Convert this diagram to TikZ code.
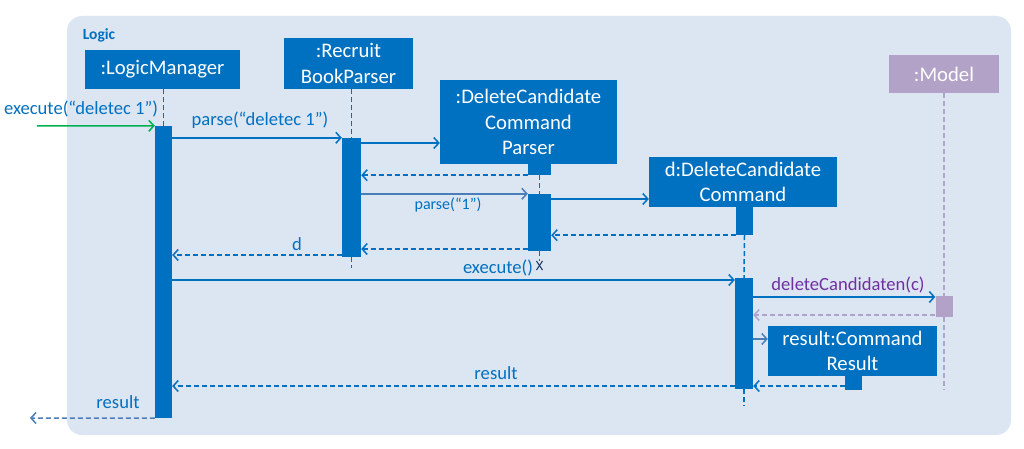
\documentclass[tikz,border=0pt]{standalone}
\usepackage{fontspec}
\setmainfont{Carlito}
\usetikzlibrary{arrows.meta,calc}
\definecolor{mblue}{HTML}{0070C0}
\definecolor{sblue}{HTML}{4A7EBB}
\definecolor{bgblue}{HTML}{DCE6F2}
\definecolor{mpurple}{HTML}{B3A2C7}
\definecolor{dpurple}{HTML}{7030A0}
\definecolor{mgreen}{HTML}{00B050}
\definecolor{navy}{HTML}{1F3864}
\begin{document}
\begin{tikzpicture}[x=1pt,y=-1pt,
  obj/.style={fill=mblue, text=white, draw=none, inner sep=0pt, align=center, font=\fontsize{20.7}{25.5}\selectfont},
  bar/.style={fill=mblue, draw=none, inner sep=0pt},
  life/.style={mblue, line width=1.5pt, dash pattern=on 5pt off 3pt},
  msg/.style={mblue, line width=1.5pt, -{Straight Barb[length=5pt,width=11pt,line width=1.5pt]}},
  ret/.style={msg, dash pattern=on 5pt off 3pt},
  lbl/.style={text=mblue, font=\fontsize{18.6}{20}\selectfont, inner sep=0pt},
]
\useasboundingbox (0,0) rectangle (1024,449);
\fill[white] (0,0) rectangle (1024,449);
\fill[bgblue, rounded corners=15pt] (67,16) rectangle (1011,435);
\node[text=mblue, font=\bfseries\fontsize{15.5}{17}\selectfont, inner sep=0pt] (logic) at (99,35) {Logic};

% objects
\node[obj, minimum width=155pt, minimum height=39pt] (lm) at (162.5,69.5) {:LogicManager};
\node[obj, minimum width=129pt, minimum height=51pt] (rbp) at (348.5,63.5) {:Recruit\\BookParser};
\node[obj, minimum width=177pt, minimum height=84pt] (dccp) at (528.5,122) {:DeleteCandidate\\Command\\Parser};
\node[obj, minimum width=188pt, minimum height=50pt] (dcc) at (743,182) {d:DeleteCandidate\\Command};
\node[obj, fill=mpurple, minimum width=110pt, minimum height=38pt] (mod) at (944,74) {:Model};
\node[obj, minimum width=169pt, minimum height=50pt] (res) at (852.5,351) {result:Command\\Result};

% small bars under boxes
\node[bar, minimum width=23pt, minimum height=11pt] (dccpS) at (539.5,169.5) {};
\node[bar, minimum width=17pt, minimum height=28pt] (dccS) at (744.5,221) {};
\node[bar, minimum width=17pt, minimum height=14pt] (resS) at (853.5,383) {};

% end coordinates
\coordinate (rbpEnd) at (351.5,268);
\coordinate (dccpEnd) at (539.5,261);
\coordinate (dccEnd) at (744,406);
\coordinate (modEnd) at (944,390);

% activation bars
\node[bar, minimum width=17pt, minimum height=292pt] (lmA) at (163.5,272) {};
\node[bar, minimum width=19pt, minimum height=119pt] (rbpA) at (351.5,197.5) {};
\node[bar, minimum width=23pt, minimum height=57pt] (dccpA) at (539.5,222.5) {};
\node[bar, minimum width=18pt, minimum height=111pt] (dccA) at (744,333.5) {};
\node[bar, fill=mpurple, minimum width=17pt, minimum height=21pt] (modA) at (944,306.5) {};

% lifelines
\draw[life] (lmA.north |- lm.south) -- (lmA.north);
\draw[life] (rbpA.north |- rbp.south) -- (rbpA.north);
\draw[life] (rbpA.south) -- (rbpEnd);
\draw[life] (dccpS.south) -- (dccpA.north);
\draw[life] (dccpA.south) -- (dccpEnd);
\draw[life] (dccS.south) -- (dccA.north);
\draw[life] (dccA.south) -- (dccEnd);
\draw[life, mpurple] (mod.south) -- (modA.north);
\draw[life, mpurple] (modA.south) -- (modEnd);

% destruction mark
\draw[navy, line width=1pt] ($(dccpEnd)+(-3,0)$) -- ($(dccpEnd)+(3,9)$);
\draw[navy, line width=1pt] ($(dccpEnd)+(3,0)$) -- ($(dccpEnd)+(-3,9)$);

% y levels
\coordinate (src) at (37,126);
\coordinate (out) at (30,418);
\coordinate (y3) at (0,143);
\coordinate (y6) at (0,199);
\coordinate (y8) at (0,249);
\coordinate (y9) at (0,255);
\coordinate (y10) at (0,280);
\coordinate (y11) at (0,297);
\coordinate (y12) at (0,315);
\coordinate (y13) at (0,339);
\coordinate (y14) at (0,386);

% messages
\draw[msg, mgreen] (src) -- (lmA.north west);
\draw[msg] (lmA.north east |- rbpA.north) -- (rbpA.north west);
\draw[msg] (rbpA.east |- y3) -- (dccp.west |- y3);
\draw[ret] (dccpS.south west) -- (rbpA.east |- dccpS.south);
\draw[msg, sblue] (rbpA.east |- dccpA.north) -- (dccpA.north west);
\draw[msg] (dccpA.east |- y6) -- (dcc.west |- y6);
\draw[ret] (dccS.south west) -- (dccpA.east |- dccS.south);
\draw[ret] (dccpA.west |- y8) -- (rbpA.east |- y8);
\draw[ret] (rbpA.west |- y9) -- (lmA.east |- y9);
\draw[msg] (lmA.east |- y10) -- (dccA.west |- y10);
\draw[msg] (dccA.east |- y11) -- (modA.west |- y11);
\draw[ret, mpurple] (modA.west |- y12) -- (dccA.east |- y12);
\draw[msg, sblue] (dccA.east |- y13) -- (res.west |- y13);
\draw[ret] (resS.west |- y14) -- (dccA.east |- y14);
\draw[ret] (dccA.west |- y14) -- (lmA.east |- y14);
\draw[ret, sblue] (lmA.south west) -- (out);

% labels
\node[lbl] (l1) at (81,109) {execute(“deletec 1”)};
\node[lbl] (l2) at (260,120) {parse(“deletec 1”)};
\node[lbl, font=\fontsize{16}{18}\selectfont] (l5) at (448,205) {parse(“1”)};
\node[lbl] (l9) at (297,244) {d};
\node[lbl] (l10) at (498,268) {execute()};
\node[lbl, text=dpurple] (l11) at (848,285) {deleteCandidaten(c)};
\node[lbl] (l14) at (496,373) {result};
\node[lbl] (l16) at (118,402) {result};
\end{tikzpicture}
\end{document}
